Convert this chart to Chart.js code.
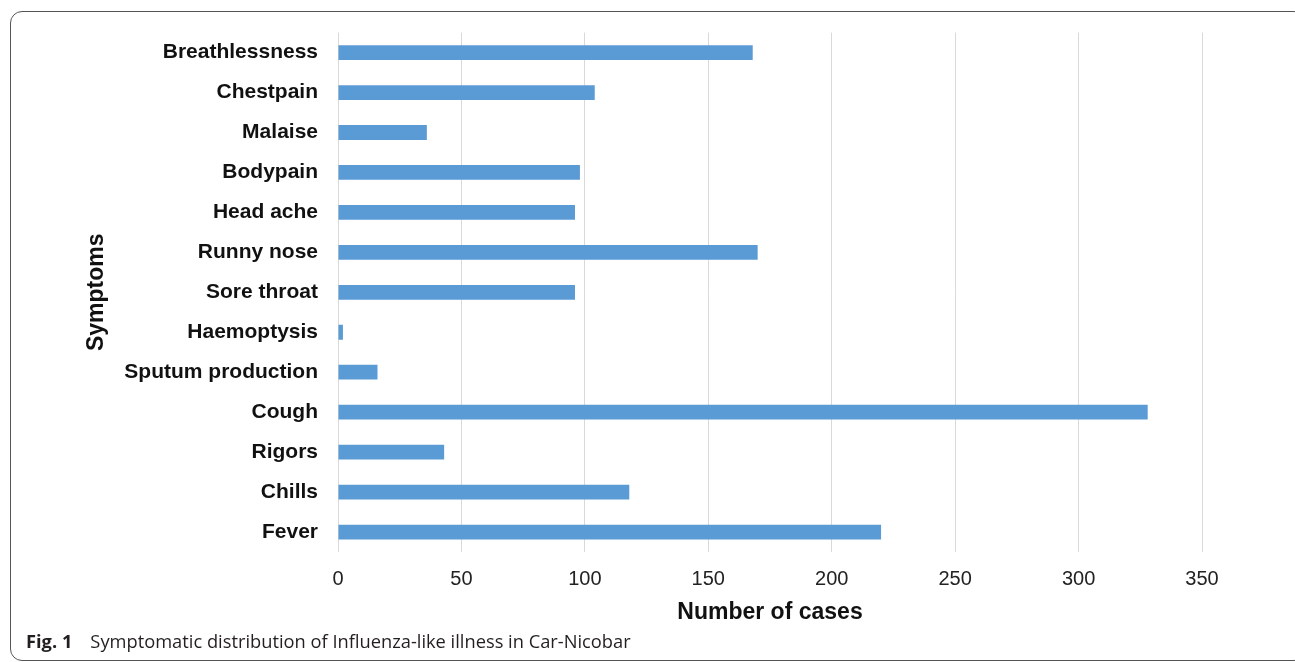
<!DOCTYPE html>
<html lang="en">
<head>
<meta charset="UTF-8">
<title>Fig. 1 Symptomatic distribution</title>
<script src="https://cdn.jsdelivr.net/npm/chart.js@4"></script>
<style>
    html, body { margin: 0; padding: 0; background: #fff; }
    body { width: 1295px; height: 662px; position: relative; overflow: hidden; }
    .frame {
        position: absolute; left: 10px; top: 11px; width: 1296px; height: 650px;
        border: 1.5px solid #555; border-radius: 12px; box-sizing: border-box;
    }
    .wrap { position: absolute; left: 0; top: 0; width: 1295px; height: 662px; }
    .caption {
        position: absolute; left: 26px; top: 628px;
        font-family: "Open Sans", "Noto Sans", sans-serif; font-size: 18.3px; color: #231f20;
        white-space: nowrap;
    }
    .caption b { margin-right: 18px; }
</style>
</head>
<body>
<div class="frame"></div>
<div class="wrap"><canvas id="chart" width="1295" height="662"></canvas></div>
<div class="caption"><b>Fig. 1</b>Symptomatic distribution of Influenza-like illness in Car-Nicobar</div>

<script>
    // Categories top to bottom, as in the figure
    const symptoms = ['Breathlessness', 'Chestpain', 'Malaise', 'Bodypain', 'Head ache', 'Runny nose',
        'Sore throat', 'Haemoptysis', 'Sputum production', 'Cough', 'Rigors', 'Chills', 'Fever'];
    const cases = [168, 104, 36, 98, 96, 170, 96, 2, 16, 328, 43, 118, 220];
    const xTicks = [0, 50, 100, 150, 200, 250, 300, 350];

    const blue = '#5b9bd5';
    const font = '"Liberation Sans", Arial, sans-serif';

    new Chart(document.getElementById('chart'), {
        type: 'bar',
        data: {
            labels: symptoms,
            datasets: [{
                label: 'Number of cases',
                data: cases,
                backgroundColor: blue,
                borderWidth: 0,
                categoryPercentage: 1,
                barPercentage: 0.37
            }]
        },
        options: {
            indexAxis: 'y',
            responsive: false,
            animation: false,
            layout: { padding: { left: 83, right: 93, top: 32, bottom: 24 } },
            plugins: { legend: { display: false }, tooltip: { enabled: false } },
            scales: {
                x: {
                    min: 0, max: 350,
                    afterBuildTicks: s => { s.ticks = xTicks.map(v => ({ value: v })); },
                    afterFit: s => { s.height = 86; },
                    grid: { color: '#d9d9d9', drawTicks: false },
                    border: { display: false },
                    ticks: {
                        padding: 15,
                        color: '#222',
                        font: { family: font, size: 20 }
                    },
                    title: {
                        display: true,
                        text: 'Number of cases',
                        color: '#111',
                        padding: { top: 4, bottom: 12 },
                        font: { family: font, size: 23, weight: 'bold' }
                    }
                },
                y: {
                    afterFit: s => { s.width = 255; },
                    grid: { display: false, drawTicks: false },
                    border: { display: false },
                    ticks: {
                        padding: 20,
                        color: '#111',
                        font: { family: font, size: 21, weight: 'bold' }
                    },
                    title: {
                        display: true,
                        text: 'Symptoms',
                        color: '#111',
                        padding: 0,
                        font: { family: font, size: 23, weight: 'bold' }
                    }
                }
            }
        }
    });
</script>
</body>
</html>
